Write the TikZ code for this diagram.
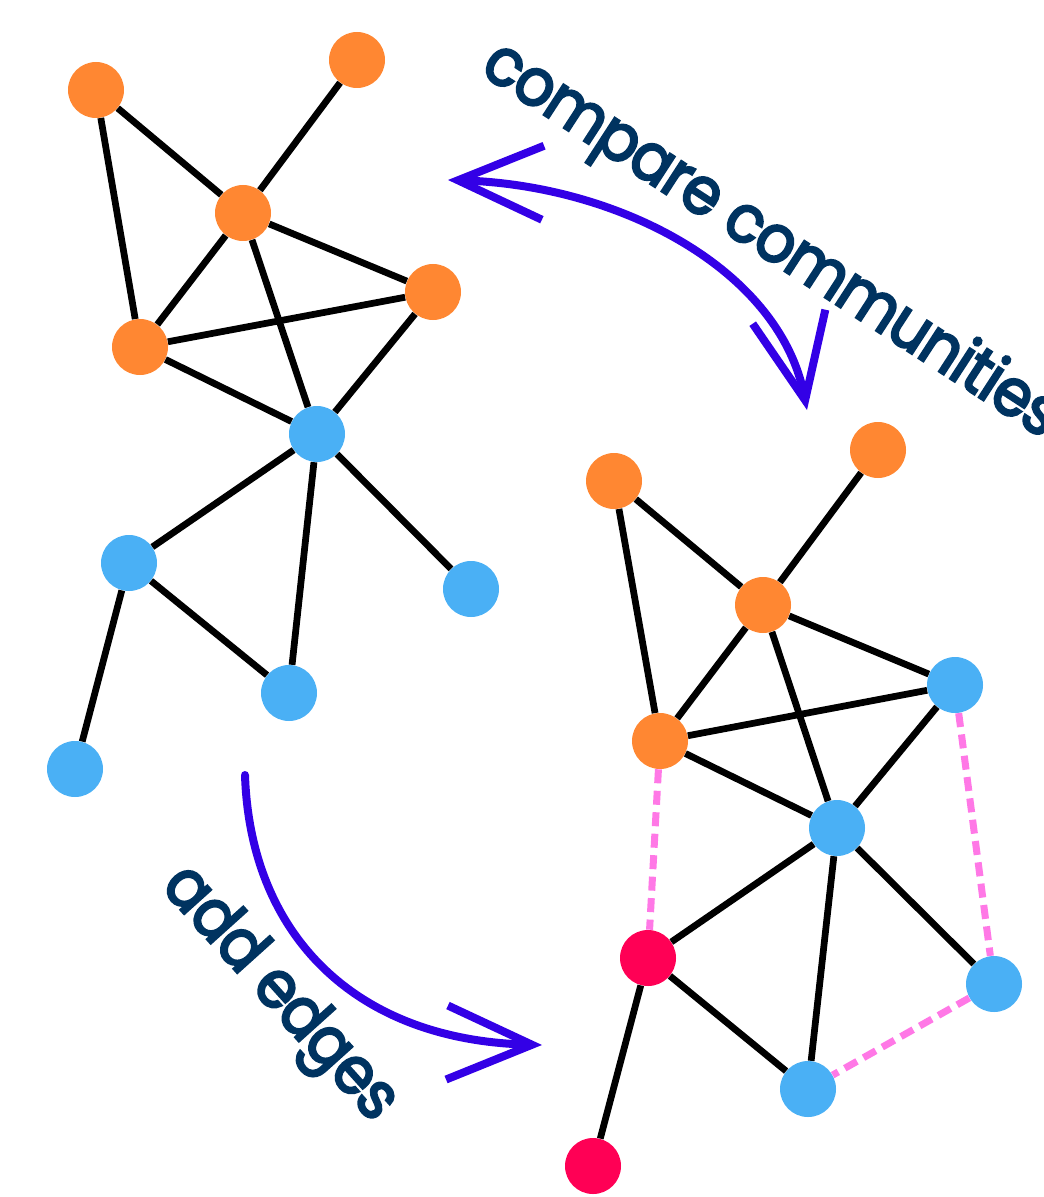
\documentclass[tikz,border=0pt]{standalone}
\usepackage{fontspec}
\newfontfamily\captionfont{Poppins}[FakeBold=3.5,FakeStretch=0.92,LetterSpace=-2]
\usepackage{xcolor}
\usepackage{tikz}
\usetikzlibrary{arrows.meta}

\definecolor{comorange}{HTML}{FF8732}
\definecolor{comblue}{HTML}{4AB0F5}
\definecolor{comred}{HTML}{FF0055}
\definecolor{newedge}{HTML}{FF78E6}
\definecolor{labelnavy}{HTML}{003360}
\definecolor{penblue}{HTML}{3300E6}

\tikzset{
  vtx/.style={circle,inner sep=0pt,minimum size=11.2mm},
  edge/.style={black,line width=1.35mm},
  addedge/.style={newedge,line width=1.4mm,dash pattern=on 2.8mm off 1.5mm},
  pen/.style={penblue,line width=1.6mm,line cap=round},
  pentip/.tip={Straight Barb[length=17mm,width=14.8mm]},
  caption/.style={labelnavy,font=\captionfont\fontsize{37.5}{37.5}\selectfont}
}

\begin{document}
\begin{tikzpicture}[x=0.2mm,y=-0.2mm]
  \useasboundingbox (0,0) rectangle (1043,1197);

  % original network
  \node[vtx,fill=comorange] (a1) at (96,90) {};
  \node[vtx,fill=comorange] (a2) at (357,60) {};
  \node[vtx,fill=comorange] (a3) at (243,213) {};
  \node[vtx,fill=comorange] (a4) at (433,292) {};
  \node[vtx,fill=comorange] (a5) at (140,347) {};
  \node[vtx,fill=comblue] (a6) at (317,434) {};
  \node[vtx,fill=comblue] (a7) at (129,563) {};
  \node[vtx,fill=comblue] (a8) at (471,589) {};
  \node[vtx,fill=comblue] (a9) at (289,693) {};
  \node[vtx,fill=comblue] (a10) at (75,769) {};
  \draw[edge] (a1) -- (a3);
  \draw[edge] (a1) -- (a5);
  \draw[edge] (a2) -- (a3);
  \draw[edge] (a3) -- (a4);
  \draw[edge] (a3) -- (a5);
  \draw[edge] (a3) -- (a6);
  \draw[edge] (a5) -- (a4);
  \draw[edge] (a5) -- (a6);
  \draw[edge] (a4) -- (a6);
  \draw[edge] (a6) -- (a7);
  \draw[edge] (a6) -- (a8);
  \draw[edge] (a6) -- (a9);
  \draw[edge] (a7) -- (a9);
  \draw[edge] (a7) -- (a10);

  % network with added edges
  \node[vtx,fill=comorange] (b1) at (614,481) {};
  \node[vtx,fill=comorange] (b2) at (878,450) {};
  \node[vtx,fill=comorange] (b3) at (763,605) {};
  \node[vtx,fill=comblue] (b4) at (955,685) {};
  \node[vtx,fill=comorange] (b5) at (660,741) {};
  \node[vtx,fill=comblue] (b6) at (837,828) {};
  \node[vtx,fill=comred] (b7) at (648,958) {};
  \node[vtx,fill=comblue] (b8) at (994,984) {};
  \node[vtx,fill=comblue] (b9) at (808,1089) {};
  \node[vtx,fill=comred] (b10) at (593,1166) {};
  \draw[edge] (b1) -- (b3);
  \draw[edge] (b1) -- (b5);
  \draw[edge] (b2) -- (b3);
  \draw[edge] (b3) -- (b4);
  \draw[edge] (b3) -- (b5);
  \draw[edge] (b3) -- (b6);
  \draw[edge] (b5) -- (b4);
  \draw[edge] (b5) -- (b6);
  \draw[edge] (b4) -- (b6);
  \draw[edge] (b6) -- (b7);
  \draw[edge] (b6) -- (b8);
  \draw[edge] (b6) -- (b9);
  \draw[edge] (b7) -- (b9);
  \draw[edge] (b7) -- (b10);
  \draw[addedge] (b5) -- (b7);
  \draw[addedge] (b4) -- (b8);
  \draw[addedge] (b8) -- (b9);

  % hand drawn arrows
  \coordinate (cmpL) at (448,180);
  \coordinate (cmpR) at (807,410);
  \coordinate (addT) at (245,775);
  \coordinate (addB) at (542,1045);
  \draw[pen,pentip-pentip] (cmpL) .. controls (620,185) and (780,270) .. (cmpR);
  \draw[pen,-pentip] (addT) .. controls (250,930) and (350,1040) .. (addB);

  % labels
  \node[caption,rotate=-33] (cmptxt) at (770,242) {compare communities};
  \node[caption,rotate=-48] (addtxt) at (278,995) {add edges};
\end{tikzpicture}
\end{document}
